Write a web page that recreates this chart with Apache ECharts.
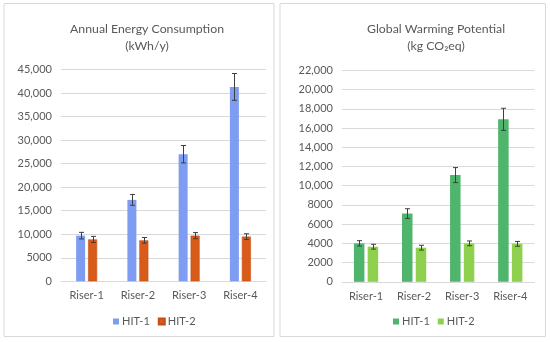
<!DOCTYPE html>
<html><head><meta charset="utf-8">
<script src="https://cdn.jsdelivr.net/npm/echarts@6/dist/echarts.min.js"></script>
<style>html,body{margin:0;padding:0;background:#fff}#c{width:550px;height:342px}</style>
</head><body><div id="c"></div>
<script>
const categories = ['Riser-1', 'Riser-2', 'Riser-3', 'Riser-4'];
const seriesNames = ['HIT-1', 'HIT-2'];
const energyHit1 = [9700, 17300, 27000, 41300];
const energyHit1Err = [700, 1150, 1850, 2850];
const energyHit2 = [8900, 8700, 9700, 9500];
const energyHit2Err = [650, 600, 650, 600];
const gwpHit1 = [4000, 7100, 11100, 16900];
const gwpHit1Err = [280, 500, 780, 1150];
const gwpHit2 = [3650, 3550, 4000, 3950];
const gwpHit2Err = [250, 250, 250, 250];
const energyTicks = ['0', '5000', '10,000', '15,000', '20,000', '25,000', '30,000', '35,000', '40,000', '45,000'];
const gwpTicks = ['0', '2000', '4000', '6000', '8000', '10,000', '12,000', '14,000', '16,000', '18,000', '20,000', '22,000'];

const FONT = 'Lato';
const TXT = '#595959';
const GRID = '#d9d9d9';

function errSeries(xi, vals, errs, offset) {
  return {
    type: 'custom', xAxisIndex: xi, yAxisIndex: xi, z: 10, silent: true,
    data: vals.map((v, i) => [i, v, errs[i]]),
    renderItem: function (params, api) {
      const i = api.value(0), v = api.value(1), e = api.value(2);
      const hi = api.coord([i, v + e]);
      const lo = api.coord([i, v - e]);
      const x = Math.round(hi[0] + offset) + 0.5;
      const cw = 2.5;
      const st = { stroke: '#3f3f3f', lineWidth: 1 };
      return { type: 'group', children: [
        { type: 'line', shape: { x1: x, y1: hi[1], x2: x, y2: lo[1] }, style: st },
        { type: 'line', shape: { x1: x - cw, y1: hi[1], x2: x + cw, y2: hi[1] }, style: st },
        { type: 'line', shape: { x1: x - cw, y1: lo[1], x2: x + cw, y2: lo[1] }, style: st }
      ]};
    }
  };
}

function xAx(gi) {
  return {
    type: 'category', gridIndex: gi, data: categories,
    axisLine: { lineStyle: { color: GRID } }, axisTick: { show: false },
    axisLabel: { color: TXT, fontFamily: FONT, fontSize: 11, margin: 9 }
  };
}
function yAx(gi, max, interval, ticks) {
  return {
    type: 'value', gridIndex: gi, min: 0, max: max, interval: interval,
    axisLine: { show: false }, axisTick: { show: false },
    splitLine: { lineStyle: { color: GRID } },
    axisLabel: { color: TXT, fontFamily: FONT, fontSize: 11, margin: 9,
      formatter: v => ticks[Math.round(v / interval)] }
  };
}

const legendCommon = { icon: 'rect', itemWidth: 6, itemHeight: 6, itemGap: 8, top: 311, selectedMode: false,
  textStyle: { color: TXT, fontFamily: FONT, fontSize: 11, padding: [0, 0, 0, -2] } };

const chart = echarts.init(document.getElementById('c'), null, { renderer: 'canvas' });
chart.setOption({
  animation: false,
  graphic: [
    { type: 'rect', shape: { x: 4, y: 3.5, width: 270, height: 333 }, style: { fill: 'none', stroke: GRID, lineWidth: 1 } },
    { type: 'rect', shape: { x: 280, y: 3.5, width: 265.5, height: 333 }, style: { fill: 'none', stroke: GRID, lineWidth: 1 } }
  ],
  title: [
    { text: 'Annual Energy Consumption\n(kWh/y)', left: 142, top: 16, textAlign: 'center',
      textStyle: { color: TXT, fontFamily: FONT, fontSize: 12.3, fontWeight: 'normal', lineHeight: 16.5 } },
    { text: 'Global Warming Potential\n(kg CO\u2082eq)', left: 431, top: 16, textAlign: 'center',
      textStyle: { color: TXT, fontFamily: FONT, fontSize: 12.3, fontWeight: 'normal', lineHeight: 16.5 } }
  ],
  legend: [
    Object.assign({ data: seriesNames.map(n => ({ name: n })), left: 108, formatter: n => n }, legendCommon),
    Object.assign({ data: seriesNames.map(n => ({ name: n + ' ' })), left: 388, formatter: n => n.trim() }, legendCommon)
  ],
  grid: [
    { left: 61, right: 284, top: 69.5, bottom: 60.7 },
    { left: 342, right: 15.7, top: 70.3, bottom: 60.2 }
  ],
  xAxis: [xAx(0), xAx(1)],
  yAxis: [yAx(0, 45000, 5000, energyTicks), yAx(1, 22000, 2000, gwpTicks)],
  series: [
    { name: seriesNames[0], type: 'bar', xAxisIndex: 0, yAxisIndex: 0, data: energyHit1, barWidth: 9, barGap: '33%', itemStyle: { color: '#7e9df2' } },
    { name: seriesNames[1], type: 'bar', xAxisIndex: 0, yAxisIndex: 0, data: energyHit2, barWidth: 9, barGap: '33%', itemStyle: { color: '#d85b1a', borderColor: '#c44f14', borderWidth: 0.6 } },
    { name: seriesNames[0] + ' ', type: 'bar', xAxisIndex: 1, yAxisIndex: 1, data: gwpHit1, barWidth: 10.5, barGap: '31%', itemStyle: { color: '#4fb46c' } },
    { name: seriesNames[1] + ' ', type: 'bar', xAxisIndex: 1, yAxisIndex: 1, data: gwpHit2, barWidth: 10.5, barGap: '31%', itemStyle: { color: '#8fd14f' } },
    errSeries(0, energyHit1, energyHit1Err, -6),
    errSeries(0, energyHit2, energyHit2Err, 6),
    errSeries(1, gwpHit1, gwpHit1Err, -6.9),
    errSeries(1, gwpHit2, gwpHit2Err, 6.9)
  ]
});
</script></body></html>
